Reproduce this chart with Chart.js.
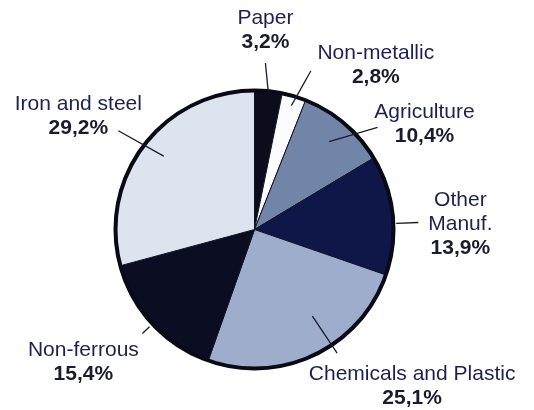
<!DOCTYPE html>
<html lang="en">
  <head>
    <meta charset="UTF-8" />
    <title>Pie chart</title>
    <script src="https://cdn.jsdelivr.net/npm/chart.js"></script>
    <style>
      body { margin: 0; background: #fff; }
      #wrap { width: 534px; height: 410px; }
    </style>
  </head>
  <body>
    <div id="wrap">
      <canvas id="pieChart" width="534" height="410"></canvas>
    </div>

    <script>
      // data
      const categories = [
        "Paper",
        "Non-metallic",
        "Agriculture",
        ["Other", "Manuf."],
        "Chemicals and Plastic",
        "Non-ferrous",
        "Iron and steel",
      ];
      const shares = [3.2, 2.8, 10.4, 13.9, 25.1, 15.4, 29.2];

      const sliceColors = [
        "#0b0c1c",
        "#fbfcff",
        "#7085a8",
        "#0f1648",
        "#9dadcb",
        "#0b0e22",
        "#dde4f0",
      ];

      // leader line: from (mid + a0 deg, r0 * R) to (mid + a1 deg, r1 * R)
      // text block centred at leader end + (dx, dy)
      const leaders = [
        { a0: 0, r0: 0.99, a1: -2, r1: 1.2, dx: 0, dy: -33 },
        { a0: 0, r0: 0.93, a1: 3, r1: 1.21, dx: 65, dy: -6 },
        { a0: 0, r0: 0.83, a1: 10, r1: 1.15, dx: 47, dy: -3 },
        { a0: 3.5, r0: 1.02, a1: 3.5, r1: 1.18, dx: 42, dy: 1.5 },
        { a0: -8, r0: 0.75, a1: -8, r1: 1.07, dx: 75, dy: 33 },
        { a0: 0, r0: 1.03, a1: 0, r1: 1.1, dx: -59, dy: 29 },
        { a0: 1.5, r0: 0.84, a1: -1.5, r1: 1.21, dx: -40, dy: -15 },
      ];

      const fmtPct = (v) => v.toFixed(1).replace(".", ",") + "%";

      // thick black rim round the pie
      const rimPlugin = {
        id: "rim",
        afterDatasetsDraw(chart) {
          const arc = chart.getDatasetMeta(0).data[0];
          const ctx = chart.ctx;
          ctx.save();
          ctx.beginPath();
          ctx.arc(arc.x, arc.y, arc.outerRadius, 0, Math.PI * 2);
          ctx.lineWidth = 4;
          ctx.strokeStyle = "#0a0a14";
          ctx.stroke();
          ctx.restore();
        },
      };

      // leader lines and labels
      const labelPlugin = {
        id: "pieLabels",
        afterDraw(chart) {
          const ctx = chart.ctx;
          const arcs = chart.getDatasetMeta(0).data;
          const lineH = 24;
          ctx.save();
          arcs.forEach((arc, i) => {
            const L = leaders[i];
            const R = arc.outerRadius;
            const mid = (arc.startAngle + arc.endAngle) / 2;
            const a0 = mid + (L.a0 * Math.PI) / 180;
            const a1 = mid + (L.a1 * Math.PI) / 180;
            const x0 = arc.x + Math.cos(a0) * R * L.r0;
            const y0 = arc.y + Math.sin(a0) * R * L.r0;
            const x1 = arc.x + Math.cos(a1) * R * L.r1;
            const y1 = arc.y + Math.sin(a1) * R * L.r1;

            ctx.beginPath();
            ctx.moveTo(x0, y0);
            ctx.lineTo(x1, y1);
            ctx.lineWidth = 1.3;
            ctx.strokeStyle = "#1a1a2c";
            ctx.stroke();

            const name = categories[i];
            const lines = Array.isArray(name) ? name.slice() : [name];
            const all = lines.length + 1;
            const cx = x1 + L.dx;
            const top = y1 + L.dy - ((all - 1) * lineH) / 2;
            ctx.textAlign = "center";
            ctx.textBaseline = "middle";
            ctx.fillStyle = "#1e2052";
            ctx.font = "21px 'Liberation Sans', Arial, sans-serif";
            lines.forEach((t, k) => ctx.fillText(t, cx, top + k * lineH));
            ctx.fillStyle = "#1b1b30";
            ctx.font = "bold 21px 'Liberation Sans', Arial, sans-serif";
            ctx.fillText(fmtPct(shares[i]), cx, top + lines.length * lineH);
          });
          ctx.restore();
        },
      };

      const ctx = document.getElementById("pieChart").getContext("2d");
      new Chart(ctx, {
        type: "pie",
        data: {
          labels: categories,
          datasets: [
            {
              data: shares,
              backgroundColor: sliceColors,
              borderColor: "#111322",
              borderWidth: 1,
            },
          ],
        },
        options: {
          responsive: false,
          animation: false,
          layout: {
            padding: { top: 90, bottom: 41, left: 98, right: 123 },
          },
          plugins: {
            legend: { display: false },
            tooltip: { enabled: false },
          },
        },
        plugins: [rimPlugin, labelPlugin],
      });
    </script>
  </body>
</html>
